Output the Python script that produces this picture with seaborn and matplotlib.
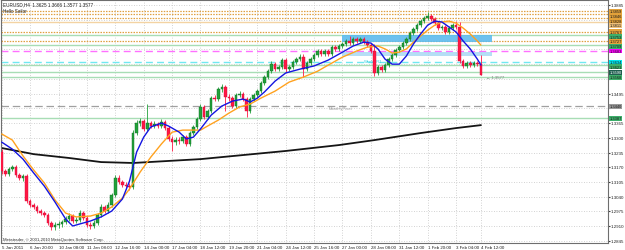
import matplotlib
matplotlib.use("Agg")
import matplotlib.pyplot as plt
import matplotlib.transforms as mtransforms
import numpy as np
import pandas as pd
import seaborn as sns

# ---------------- data (EURUSD H4) ----------------
opens = [1.3237, 1.3153, 1.3140, 1.3162, 1.3171, 1.3136, 1.3123, 1.3132, 1.3021, 1.3004,
         1.2995, 1.2977, 1.2968, 1.2959, 1.2924, 1.2907, 1.2915, 1.2920, 1.2929, 1.2942,
         1.2955, 1.2933, 1.2937, 1.2968, 1.2946, 1.2915, 1.2911, 1.2924, 1.2959, 1.2995,
         1.2977, 1.3004, 1.3048, 1.3123, 1.3105, 1.3092, 1.3087, 1.3083, 1.3321, 1.3365,
         1.3374, 1.3339, 1.3365, 1.3352, 1.3361, 1.3352, 1.3370, 1.3343, 1.3295, 1.3281,
         1.3290, 1.3286, 1.3303, 1.3273, 1.3321, 1.3348, 1.3383, 1.3436, 1.3392, 1.3418,
         1.3475, 1.3471, 1.3515, 1.3524, 1.3480, 1.3475, 1.3440, 1.3489, 1.3493, 1.3471,
         1.3418, 1.3471, 1.3489, 1.3506, 1.3541, 1.3568, 1.3594, 1.3625, 1.3603, 1.3612,
         1.3643, 1.3603, 1.3612, 1.3634, 1.3647, 1.3656, 1.3603, 1.3630, 1.3647, 1.3665,
         1.3683, 1.3669, 1.3683, 1.3669, 1.3700, 1.3692, 1.3705, 1.3714, 1.3727, 1.3718,
         1.3736, 1.3727, 1.3736, 1.3722, 1.3709, 1.3683, 1.3586, 1.3612, 1.3599, 1.3621,
         1.3647, 1.3665, 1.3687, 1.3700, 1.3718, 1.3736, 1.3762, 1.3780, 1.3797, 1.3815,
         1.3828, 1.3837, 1.3824, 1.3806, 1.3784, 1.3789, 1.3767, 1.3784, 1.3797, 1.3789,
         1.3639, 1.3617, 1.3630, 1.3621, 1.3630, 1.3625]
closes = [1.3153, 1.3140, 1.3162, 1.3171, 1.3136, 1.3123, 1.3132, 1.3021, 1.3004, 1.2995,
          1.2977, 1.2968, 1.2959, 1.2924, 1.2907, 1.2915, 1.2920, 1.2929, 1.2942, 1.2955,
          1.2933, 1.2937, 1.2968, 1.2946, 1.2915, 1.2911, 1.2924, 1.2959, 1.2995, 1.2977,
          1.3004, 1.3048, 1.3123, 1.3105, 1.3092, 1.3087, 1.3083, 1.3321, 1.3365, 1.3374,
          1.3339, 1.3365, 1.3352, 1.3361, 1.3352, 1.3370, 1.3343, 1.3295, 1.3281, 1.3290,
          1.3286, 1.3303, 1.3273, 1.3321, 1.3348, 1.3383, 1.3436, 1.3392, 1.3418, 1.3475,
          1.3471, 1.3515, 1.3524, 1.3480, 1.3475, 1.3440, 1.3489, 1.3493, 1.3471, 1.3418,
          1.3471, 1.3489, 1.3506, 1.3541, 1.3568, 1.3594, 1.3625, 1.3603, 1.3612, 1.3643,
          1.3603, 1.3612, 1.3634, 1.3647, 1.3656, 1.3603, 1.3630, 1.3647, 1.3665, 1.3683,
          1.3669, 1.3683, 1.3669, 1.3700, 1.3692, 1.3705, 1.3714, 1.3727, 1.3718, 1.3736,
          1.3727, 1.3736, 1.3722, 1.3709, 1.3683, 1.3586, 1.3612, 1.3599, 1.3621, 1.3647,
          1.3665, 1.3687, 1.3700, 1.3718, 1.3736, 1.3762, 1.3780, 1.3797, 1.3815, 1.3828,
          1.3837, 1.3824, 1.3806, 1.3784, 1.3789, 1.3767, 1.3784, 1.3797, 1.3789, 1.3639,
          1.3617, 1.3630, 1.3621, 1.3630, 1.3625, 1.3577]
highs = [1.3250, 1.3162, 1.3171, 1.3180, 1.3180, 1.3145, 1.3140, 1.3140, 1.3030, 1.3012,
         1.3004, 1.2986, 1.2977, 1.2968, 1.2933, 1.2929, 1.2933, 1.2937, 1.2955, 1.2968,
         1.2964, 1.2951, 1.2982, 1.2977, 1.2955, 1.2929, 1.2937, 1.2968, 1.3008, 1.3004,
         1.3017, 1.3056, 1.3136, 1.3136, 1.3114, 1.3105, 1.3101, 1.3334, 1.3378, 1.3387,
         1.3383, 1.3449, 1.3374, 1.3374, 1.3370, 1.3383, 1.3378, 1.3352, 1.3308, 1.3303,
         1.3303, 1.3312, 1.3312, 1.3330, 1.3356, 1.3392, 1.3449, 1.3445, 1.3427, 1.3484,
         1.3489, 1.3524, 1.3537, 1.3533, 1.3493, 1.3484, 1.3497, 1.3506, 1.3502, 1.3480,
         1.3480, 1.3497, 1.3515, 1.3550, 1.3577, 1.3603, 1.3639, 1.3634, 1.3621, 1.3652,
         1.3652, 1.3621, 1.3643, 1.3656, 1.3669, 1.3669, 1.3639, 1.3656, 1.3674, 1.3692,
         1.3692, 1.3692, 1.3692, 1.3709, 1.3709, 1.3714, 1.3722, 1.3736, 1.3749, 1.3744,
         1.3744, 1.3744, 1.3744, 1.3731, 1.3718, 1.3714, 1.3621, 1.3621, 1.3630, 1.3656,
         1.3674, 1.3696, 1.3709, 1.3727, 1.3744, 1.3771, 1.3789, 1.3806, 1.3824, 1.3837,
         1.3855, 1.3846, 1.3833, 1.3815, 1.3797, 1.3797, 1.3793, 1.3806, 1.3815, 1.3811,
         1.3647, 1.3639, 1.3639, 1.3639, 1.3639, 1.3666]
lows = [1.3140, 1.3132, 1.3132, 1.3153, 1.3127, 1.3114, 1.3109, 1.3012, 1.2995, 1.2986,
        1.2968, 1.2959, 1.2951, 1.2915, 1.2893, 1.2893, 1.2902, 1.2907, 1.2920, 1.2933,
        1.2924, 1.2924, 1.2929, 1.2937, 1.2907, 1.2898, 1.2902, 1.2915, 1.2951, 1.2968,
        1.2968, 1.2995, 1.3039, 1.3096, 1.3083, 1.3074, 1.3070, 1.3074, 1.3312, 1.3352,
        1.3330, 1.3330, 1.3343, 1.3343, 1.3343, 1.3343, 1.3334, 1.3286, 1.3242, 1.3268,
        1.3273, 1.3277, 1.3264, 1.3264, 1.3312, 1.3339, 1.3374, 1.3383, 1.3383, 1.3409,
        1.3462, 1.3462, 1.3502, 1.3418, 1.3462, 1.3431, 1.3431, 1.3480, 1.3462, 1.3392,
        1.3409, 1.3462, 1.3480, 1.3497, 1.3533, 1.3559, 1.3586, 1.3594, 1.3594, 1.3603,
        1.3590, 1.3594, 1.3603, 1.3625, 1.3639, 1.3568, 1.3594, 1.3621, 1.3639, 1.3656,
        1.3661, 1.3661, 1.3661, 1.3661, 1.3683, 1.3683, 1.3696, 1.3705, 1.3709, 1.3709,
        1.3718, 1.3718, 1.3714, 1.3700, 1.3674, 1.3572, 1.3577, 1.3590, 1.3590, 1.3612,
        1.3639, 1.3656, 1.3678, 1.3692, 1.3709, 1.3727, 1.3753, 1.3771, 1.3789, 1.3806,
        1.3819, 1.3815, 1.3797, 1.3775, 1.3775, 1.3758, 1.3758, 1.3775, 1.3780, 1.3630,
        1.3608, 1.3608, 1.3612, 1.3612, 1.3617, 1.3577]

# moving averages (bar index, price)
fast_ma_bars = [0, 3, 6, 9, 12, 15, 18, 20, 22, 25, 28, 31, 34, 36, 38, 40, 42, 45, 47, 50,
                52, 54, 56, 59, 62, 65, 68, 70, 72, 74, 77, 80, 84, 88, 92, 96, 99, 102, 104,
                106, 108, 110, 112, 114, 116, 118, 120, 122, 124, 126, 128, 130, 132, 134, 135]
fast_ma = [1.3281, 1.3250, 1.3206, 1.3145, 1.3087, 1.3017, 1.2942, 1.2911, 1.2920, 1.2933,
           1.2951, 1.2977, 1.3030, 1.3109, 1.3237, 1.3303, 1.3348, 1.3365, 1.3352, 1.3325,
           1.3295, 1.3303, 1.3339, 1.3400, 1.3440, 1.3462, 1.3471, 1.3458, 1.3475, 1.3502,
           1.3550, 1.3586, 1.3603, 1.3617, 1.3643, 1.3678, 1.3705, 1.3722, 1.3718, 1.3692,
           1.3647, 1.3625, 1.3625, 1.3661, 1.3714, 1.3758, 1.3797, 1.3815, 1.3811, 1.3789,
           1.3767, 1.3727, 1.3692, 1.3647, 1.3621]
slow_ma_bars = [0, 3, 6, 9, 12, 15, 18, 21, 25, 28, 31, 34, 36, 39, 42, 45, 48, 51, 54, 56,
                58, 61, 64, 67, 70, 73, 77, 81, 85, 89, 92, 96, 100, 103, 106, 108, 110, 112,
                114, 116, 118, 120, 122, 124, 126, 128, 130, 132, 134, 135]
slow_ma = [1.3317, 1.3290, 1.3220, 1.3158, 1.3101, 1.3026, 1.2968, 1.2951, 1.2955, 1.2968,
           1.2995, 1.3034, 1.3074, 1.3149, 1.3215, 1.3273, 1.3325, 1.3334, 1.3334, 1.3334,
           1.3352, 1.3378, 1.3409, 1.3436, 1.3449, 1.3475, 1.3506, 1.3546, 1.3568, 1.3594,
           1.3621, 1.3656, 1.3683, 1.3700, 1.3705, 1.3692, 1.3674, 1.3678, 1.3692, 1.3722,
           1.3749, 1.3775, 1.3797, 1.3811, 1.3815, 1.3806, 1.3784, 1.3758, 1.3727, 1.3709]
long_ma_bars = [0, 9, 19, 28, 37, 47, 56, 62, 80, 95, 105, 118, 128, 135]
long_ma = [1.3255, 1.3228, 1.3211, 1.3193, 1.3189, 1.3198, 1.3206, 1.3215, 1.3242, 1.3268,
           1.3290, 1.3321, 1.3343, 1.3356]

# horizontal levels
level_prices = [1.3859, 1.3846, 1.3828, 1.3811, 1.3767, 1.3753, 1.3727, 1.3709, 1.3683,
                1.3634, 1.3621, 1.3590, 1.3568, 1.3440, 1.3387]
level_kinds = ["orange", "orange", "orange", "lightorange", "orange", "green", "orange",
               "green", "magenta", "cyan", "green", "green", "green", "gray", "green"]
label_colors = ["#E3A13A", "#E3A13A", "#E3A13A", "#EFC07A", "#E3A13A", "#3DAF6A", "#E3A13A",
                "#3DAF6A", "#FF00FF", "#00E5EE", "#3DAF6A", "#1F5F4F", "#3DAF6A", "#9A9A9A",
                "#3DAF6A"]

zone1 = (96, 138, 1.3722, 1.3753)
zone2 = (96, 138, 1.3661, 1.3679)

x_tick_bars = [0, 8, 16, 24, 32, 40, 48, 56, 64, 72, 80, 88, 96, 104, 112, 120, 128, 135]
x_tick_labels = ["5 Jan 2011", "6 Jan 20:00", "10 Jan 08:00", "11 Jan 08:00", "12 Jan 16:00",
                 "14 Jan 00:00", "17 Jan 04:00", "18 Jan 12:00", "19 Jan 20:00",
                 "21 Jan 04:00", "24 Jan 12:00", "25 Jan 16:00", "27 Jan 00:00",
                 "28 Jan 08:00", "31 Jan 12:00", "1 Feb 20:00", "3 Feb 04:00", "4 Feb 12:00"]
y_ticks = [1.2845, 1.2910, 1.2975, 1.3040, 1.3105, 1.3170, 1.3235, 1.3300, 1.3365, 1.3430,
           1.3495, 1.3560, 1.3625, 1.3690, 1.3755, 1.3820, 1.3885]
y_ticks_hidden = [1.3430, 1.3560, 1.3625, 1.3690, 1.3755, 1.3820]

# ---------------- figure ----------------
sns.set_style("white")
plt.rcParams['font.family'] = ['Liberation Sans', 'DejaVu Sans']

fig = plt.figure(figsize=(6.25, 2.51), dpi=100)
fig.patch.set_facecolor("white")
ax = fig.add_axes([1 / 625, 7 / 251, 607 / 625, 243 / 251])
ax.set_xlim(-0.2, 170.8)
ax.set_ylim(1.2836, 1.3908)

# grid
ax.set_xticks(x_tick_bars)
ax.set_yticks(y_ticks)
ax.grid(True, color="#C4C4C4", linestyle=(0, (1, 2)), linewidth=0.6, zorder=0)

# levels
style_map = {
    "orange": dict(color="#E0A040", linestyle=(0, (1.2, 1.0)), linewidth=0.9),
    "lightorange": dict(color="#F3D3A3", linestyle="-", linewidth=1.0),
    "green": dict(color="#A8DDB5", linestyle="-", linewidth=1.0),
    "magenta": dict(color="#FF70FF", linestyle=(0, (5, 3)), linewidth=1.0),
    "cyan": dict(color="#70E8F0", linestyle=(0, (5, 3)), linewidth=1.0),
    "gray": dict(color="#A0A0A0", linestyle=(0, (6, 3)), linewidth=0.9),
}
for p, k in zip(level_prices, level_kinds):
    ax.axhline(p, zorder=1, **style_map[k])

# zones
for (x0, x1, p0, p1), col, a in [(zone1, "#5DBBEE", 0.9), (zone2, "#9ED4F2", 0.75)]:
    ax.fill_between([x0, x1], [p0, p0], [p1, p1], color=col, alpha=a, linewidth=0, zorder=1.5)

# candles
idx = np.arange(len(closes))
df = pd.DataFrame({"bar": idx, "open": opens, "high": highs, "low": lows, "close": closes})
up = df["close"] >= df["open"]
up_col, dn_col = "#22A23A", "#FF1744"
cols = np.where(up, up_col, dn_col)
ax.vlines(df["bar"], df["low"], df["high"], colors=cols, linewidth=0.6, zorder=3)
body_lo = np.minimum(df["open"], df["close"])
body_h = np.maximum(np.abs(df["close"] - df["open"]), 0.00012)
ax.bar(df["bar"], body_h, bottom=body_lo, width=0.72, color=cols,
       edgecolor=np.where(up, "#0E6B22", "#D0103A"), linewidth=0.3, zorder=4)

# moving averages
sns.lineplot(x=long_ma_bars, y=long_ma, ax=ax, color="#151515", linewidth=1.3, zorder=2)
sns.lineplot(x=slow_ma_bars, y=slow_ma, ax=ax, color="#FFA21F", linewidth=1.0, zorder=5)
sns.lineplot(x=fast_ma_bars, y=fast_ma, ax=ax, color="#1515E0", linewidth=1.0, zorder=6)

# axes styling
ax.yaxis.tick_right()
ax.tick_params(axis="y", labelsize=3.2, length=1.2, pad=1.0, colors="#404040", labelcolor="#202020")
ax.tick_params(axis="x", labelsize=3.2, length=0.8, pad=0.3, colors="#404040", labelcolor="#202020")
ax.set_xticklabels(x_tick_labels, ha="left")
ax.set_yticklabels(["" if v in y_ticks_hidden else f"{v:.4f}" for v in y_ticks], va="center")
for s in ax.spines.values():
    s.set_color("#6E6E6E")
    s.set_linewidth(0.8)
ax.set_xlabel("")
ax.set_ylabel("")

# right-side price labels, stacked so they do not overlap
order = np.argsort(level_prices)[::-1]
gap = 0.0021
prev = None
label_pos = {}
for i in order:
    pos = level_prices[i] if prev is None else min(level_prices[i], prev - gap)
    label_pos[i] = pos
    prev = pos
trans = mtransforms.blended_transform_factory(ax.transAxes, ax.transData)
for i, (p, c) in enumerate(zip(level_prices, label_colors)):
    tc = "white" if c == "#1F5F4F" else "#1A1A1A"
    ax.text(1.0025, label_pos[i], f"{p:.4f}", transform=trans, fontsize=2.9, color=tc,
            va="center", ha="left", clip_on=False, zorder=10,
            bbox=dict(boxstyle="square,pad=0.12", facecolor=c, edgecolor="none"))

# annotations
ax.text(0.004, 0.993, "EURUSD,H4  1.3625 1.3666 1.3577 1.3577", transform=ax.transAxes,
        fontsize=3.3, va="top", ha="left", color="#202020")
ax.text(0.004, 0.966, "Hello Sailor", transform=ax.transAxes, fontsize=3.3, va="top",
        ha="left", color="#202020")
ax.text(0.003, 0.01, "Metatrader, \u00a9 2001-2010 MetaQuotes Software Corp.",
        transform=ax.transAxes, fontsize=3.1, va="bottom", ha="left", color="#303030")
ax.text(92, 1.3432, "MonthlyPivot", fontsize=3.0, color="#9A9A9A", va="center", ha="left")
ax.text(102, 1.3640, "WeeklyR1", fontsize=3.0, color="#30D0E0", va="center", ha="left")
ax.text(136.5, 1.3570, "\u2190 1.3577", fontsize=3.1, color="#808080", va="center", ha="left")

fig.savefig("out.png", dpi=100, facecolor="white")
